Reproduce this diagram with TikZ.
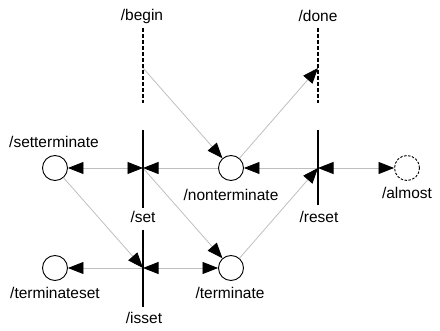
\documentclass[tikz,border=0pt]{standalone}
\usepackage{fontspec}
\setmainfont{Liberation Sans}
\usetikzlibrary{arrows.meta}
\tikzset{
  lbl/.style={inner sep=0pt, font=\fontsize{15.5}{18}\selectfont},
  place/.style={circle, draw=black, line width=0.9pt, minimum size=25pt, inner sep=0pt, fill=white},
  ghost/.style={place, dashed, dash pattern=on 2.5pt off 1.5pt},
  bar/.style={line width=2.2pt, black},
  dbar/.style={line width=2.4pt, black, dash pattern=on 4pt off 2pt},
  conn/.style={draw=black!25, line width=0.8pt},
  tip/.style={-{Triangle[length=15.5pt,width=12pt,fill=black,color=black]}},
  twotip/.style={{Triangle[length=15.5pt,width=12pt,fill=black,color=black]}-{Triangle[length=15.5pt,width=12pt,fill=black,color=black]}}
}
\begin{document}
\begin{tikzpicture}[x=1pt,y=-1pt]
\useasboundingbox (0,0) rectangle (440,331);
% transitions (bars)
\coordinate (set) at (143,168);
\coordinate (isset) at (143,268);
\coordinate (reset) at (318,168);
\coordinate (begintop) at (143,28);
\coordinate (beginbot) at (143,103);
\coordinate (beginpt) at (143,68);
\coordinate (donetop) at (318,28);
\coordinate (donebot) at (318,103);
\coordinate (donept) at (318,68);
\coordinate (settop) at (143,130);
\coordinate (setbot) at (143,208);
\coordinate (issettop) at (143,230);
\coordinate (issetbot) at (143,307);
\coordinate (resettop) at (318,130);
\coordinate (resetbot) at (318,205);
% places
\node[place] (setterminate) at (55,168) {};
\node[place] (nonterminate) at (231,168) {};
\node[ghost] (almost) at (407,168) {};
\node[place] (terminateset) at (55,268) {};
\node[place] (terminate) at (231,268) {};
% connectors
\draw[conn, twotip] (setterminate) -- (set);
\draw[conn, tip] (nonterminate) -- (set);
\draw[conn, tip] (reset) -- (nonterminate);
\draw[conn, twotip] (reset) -- (almost);
\draw[conn, tip] (beginpt) -- (nonterminate);
\draw[conn, tip] (nonterminate) -- (donept);
\draw[conn, tip] (set) -- (terminate);
\draw[conn, tip] (setterminate) -- (isset);
\draw[conn, tip] (isset) -- (terminateset);
\draw[conn, twotip] (isset) -- (terminate);
\draw[conn, tip] (terminate) -- (reset);
% bars
\draw[dbar] (begintop) -- (beginbot);
\draw[dbar] (donetop) -- (donebot);
\draw[bar] (settop) -- (setbot);
\draw[bar] (issettop) -- (issetbot);
\draw[bar] (resettop) -- (resetbot);
% labels
\node[lbl] (lbegin) at (142,16) {/begin};
\node[lbl] (ldone) at (318,16) {/done};
\node[lbl] (lsetterminate) at (54,142) {/setterminate};
\node[lbl] (lset) at (143,217) {/set};
\node[lbl] (lnonterminate) at (231,195) {/nonterminate};
\node[lbl] (lreset) at (319,217) {/reset};
\node[lbl] (lalmost) at (407,193) {/almost};
\node[lbl] (lterminateset) at (55,293) {/terminateset};
\node[lbl] (lterminate) at (230,293) {/terminate};
\node[lbl] (lisset) at (144,318) {/isset};
\end{tikzpicture}
\end{document}
